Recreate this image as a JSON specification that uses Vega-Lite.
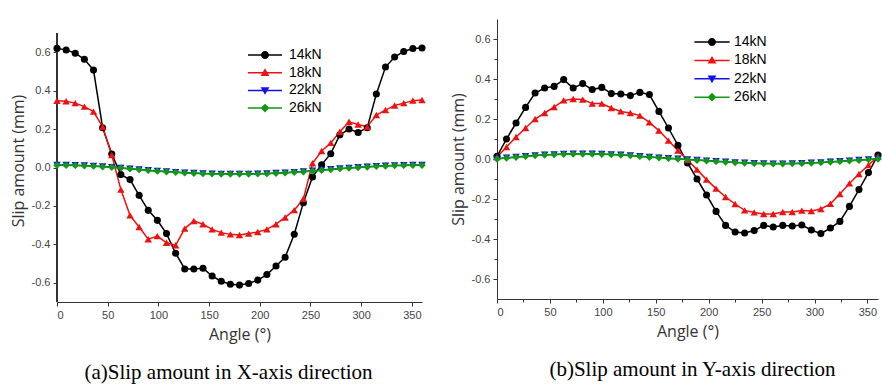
{
  "$schema": "https://vega.github.io/schema/vega-lite/v6.json",
  "background": "white",
  "padding": {"left": 10, "top": 19, "right": 2, "bottom": 2},
  "spacing": 24,
  "config": {
    "view": {"stroke": null},
    "axis": {"grid": false, "domainColor": "#333333", "tickColor": "#333333", "labelFont": "Liberation Sans", "labelFontSize": 11, "labelColor": "#444444", "titleFont": "Open Sans", "titleFontSize": 16, "titleFontWeight": "normal", "titleColor": "#333333", "labelPadding": 3},
    "legend": {"title": null, "orient": "none", "symbolSize": 64, "symbolStrokeWidth": 0, "labelOffset": 17, "padding": 0, "labelFont": "Liberation Sans", "labelFontSize": 14, "labelColor": "#000000"},
    "title": {"font": "Liberation Serif", "fontSize": 21, "fontWeight": "normal", "color": "#000000", "orient": "bottom", "frame": "group", "anchor": "middle", "offset": 20}
  },
  "datasets": {
    "a": [
      {"angle":0,"load":"14kN","slip":0.62},{"angle":9,"load":"14kN","slip":0.612},{"angle":18,"load":"14kN","slip":0.595},{"angle":27,"load":"14kN","slip":0.563},{"angle":36,"load":"14kN","slip":0.507},{"angle":45,"load":"14kN","slip":0.207},{"angle":54,"load":"14kN","slip":0.07},{"angle":63,"load":"14kN","slip":-0.037},{"angle":72,"load":"14kN","slip":-0.063},{"angle":81,"load":"14kN","slip":-0.145},{"angle":90,"load":"14kN","slip":-0.223},{"angle":99,"load":"14kN","slip":-0.275},{"angle":108,"load":"14kN","slip":-0.344},{"angle":117,"load":"14kN","slip":-0.446},{"angle":126,"load":"14kN","slip":-0.528},{"angle":135,"load":"14kN","slip":-0.528},{"angle":144,"load":"14kN","slip":-0.524},{"angle":153,"load":"14kN","slip":-0.565},{"angle":162,"load":"14kN","slip":-0.592},{"angle":171,"load":"14kN","slip":-0.608},{"angle":180,"load":"14kN","slip":-0.612},{"angle":189,"load":"14kN","slip":-0.604},{"angle":198,"load":"14kN","slip":-0.586},{"angle":207,"load":"14kN","slip":-0.557},{"angle":216,"load":"14kN","slip":-0.513},{"angle":225,"load":"14kN","slip":-0.467},{"angle":234,"load":"14kN","slip":-0.347},{"angle":243,"load":"14kN","slip":-0.183},{"angle":252,"load":"14kN","slip":-0.049},{"angle":261,"load":"14kN","slip":0.014},{"angle":270,"load":"14kN","slip":0.072},{"angle":279,"load":"14kN","slip":0.17},{"angle":288,"load":"14kN","slip":0.2},{"angle":297,"load":"14kN","slip":0.182},{"angle":306,"load":"14kN","slip":0.207},{"angle":315,"load":"14kN","slip":0.383},{"angle":324,"load":"14kN","slip":0.523},{"angle":333,"load":"14kN","slip":0.575},{"angle":342,"load":"14kN","slip":0.604},{"angle":351,"load":"14kN","slip":0.619},{"angle":360,"load":"14kN","slip":0.622},
      {"angle":0,"load":"18kN","slip":0.347},{"angle":9,"load":"18kN","slip":0.345},{"angle":18,"load":"18kN","slip":0.335},{"angle":27,"load":"18kN","slip":0.317},{"angle":36,"load":"18kN","slip":0.291},{"angle":45,"load":"18kN","slip":0.212},{"angle":54,"load":"18kN","slip":0.065},{"angle":63,"load":"18kN","slip":-0.115},{"angle":72,"load":"18kN","slip":-0.249},{"angle":81,"load":"18kN","slip":-0.31},{"angle":90,"load":"18kN","slip":-0.373},{"angle":99,"load":"18kN","slip":-0.357},{"angle":108,"load":"18kN","slip":-0.392},{"angle":117,"load":"18kN","slip":-0.405},{"angle":126,"load":"18kN","slip":-0.318},{"angle":135,"load":"18kN","slip":-0.278},{"angle":144,"load":"18kN","slip":-0.295},{"angle":153,"load":"18kN","slip":-0.322},{"angle":162,"load":"18kN","slip":-0.339},{"angle":171,"load":"18kN","slip":-0.348},{"angle":180,"load":"18kN","slip":-0.351},{"angle":189,"load":"18kN","slip":-0.344},{"angle":198,"load":"18kN","slip":-0.336},{"angle":207,"load":"18kN","slip":-0.322},{"angle":216,"load":"18kN","slip":-0.295},{"angle":225,"load":"18kN","slip":-0.26},{"angle":234,"load":"18kN","slip":-0.222},{"angle":243,"load":"18kN","slip":-0.163},{"angle":252,"load":"18kN","slip":0.022},{"angle":261,"load":"18kN","slip":0.086},{"angle":270,"load":"18kN","slip":0.128},{"angle":279,"load":"18kN","slip":0.186},{"angle":288,"load":"18kN","slip":0.238},{"angle":297,"load":"18kN","slip":0.224},{"angle":306,"load":"18kN","slip":0.212},{"angle":315,"load":"18kN","slip":0.273},{"angle":324,"load":"18kN","slip":0.299},{"angle":333,"load":"18kN","slip":0.323},{"angle":342,"load":"18kN","slip":0.335},{"angle":351,"load":"18kN","slip":0.348},{"angle":360,"load":"18kN","slip":0.351},
      {"angle":0,"load":"22kN","slip":0.013},{"angle":9,"load":"22kN","slip":0.013},{"angle":18,"load":"22kN","slip":0.012},{"angle":27,"load":"22kN","slip":0.01},{"angle":36,"load":"22kN","slip":0.008},{"angle":45,"load":"22kN","slip":0.005},{"angle":54,"load":"22kN","slip":0.002},{"angle":63,"load":"22kN","slip":-0.002},{"angle":72,"load":"22kN","slip":-0.006},{"angle":81,"load":"22kN","slip":-0.01},{"angle":90,"load":"22kN","slip":-0.014},{"angle":99,"load":"22kN","slip":-0.018},{"angle":108,"load":"22kN","slip":-0.021},{"angle":117,"load":"22kN","slip":-0.024},{"angle":126,"load":"22kN","slip":-0.027},{"angle":135,"load":"22kN","slip":-0.029},{"angle":144,"load":"22kN","slip":-0.031},{"angle":153,"load":"22kN","slip":-0.032},{"angle":162,"load":"22kN","slip":-0.033},{"angle":171,"load":"22kN","slip":-0.033},{"angle":180,"load":"22kN","slip":-0.033},{"angle":189,"load":"22kN","slip":-0.033},{"angle":198,"load":"22kN","slip":-0.032},{"angle":207,"load":"22kN","slip":-0.031},{"angle":216,"load":"22kN","slip":-0.029},{"angle":225,"load":"22kN","slip":-0.027},{"angle":234,"load":"22kN","slip":-0.024},{"angle":243,"load":"22kN","slip":-0.021},{"angle":252,"load":"22kN","slip":-0.017},{"angle":261,"load":"22kN","slip":-0.013},{"angle":270,"load":"22kN","slip":-0.009},{"angle":279,"load":"22kN","slip":-0.005},{"angle":288,"load":"22kN","slip":-0.002},{"angle":297,"load":"22kN","slip":0.001},{"angle":306,"load":"22kN","slip":0.004},{"angle":315,"load":"22kN","slip":0.007},{"angle":324,"load":"22kN","slip":0.009},{"angle":333,"load":"22kN","slip":0.011},{"angle":342,"load":"22kN","slip":0.012},{"angle":351,"load":"22kN","slip":0.013},{"angle":360,"load":"22kN","slip":0.013},
      {"angle":0,"load":"26kN","slip":0.012},{"angle":9,"load":"26kN","slip":0.012},{"angle":18,"load":"26kN","slip":0.011},{"angle":27,"load":"26kN","slip":0.009},{"angle":36,"load":"26kN","slip":0.007},{"angle":45,"load":"26kN","slip":0.004},{"angle":54,"load":"26kN","slip":0.001},{"angle":63,"load":"26kN","slip":-0.003},{"angle":72,"load":"26kN","slip":-0.007},{"angle":81,"load":"26kN","slip":-0.011},{"angle":90,"load":"26kN","slip":-0.015},{"angle":99,"load":"26kN","slip":-0.019},{"angle":108,"load":"26kN","slip":-0.022},{"angle":117,"load":"26kN","slip":-0.025},{"angle":126,"load":"26kN","slip":-0.028},{"angle":135,"load":"26kN","slip":-0.03},{"angle":144,"load":"26kN","slip":-0.032},{"angle":153,"load":"26kN","slip":-0.033},{"angle":162,"load":"26kN","slip":-0.034},{"angle":171,"load":"26kN","slip":-0.034},{"angle":180,"load":"26kN","slip":-0.034},{"angle":189,"load":"26kN","slip":-0.034},{"angle":198,"load":"26kN","slip":-0.033},{"angle":207,"load":"26kN","slip":-0.032},{"angle":216,"load":"26kN","slip":-0.03},{"angle":225,"load":"26kN","slip":-0.028},{"angle":234,"load":"26kN","slip":-0.025},{"angle":243,"load":"26kN","slip":-0.022},{"angle":252,"load":"26kN","slip":-0.018},{"angle":261,"load":"26kN","slip":-0.014},{"angle":270,"load":"26kN","slip":-0.01},{"angle":279,"load":"26kN","slip":-0.006},{"angle":288,"load":"26kN","slip":-0.003},{"angle":297,"load":"26kN","slip":0.0},{"angle":306,"load":"26kN","slip":0.003},{"angle":315,"load":"26kN","slip":0.006},{"angle":324,"load":"26kN","slip":0.008},{"angle":333,"load":"26kN","slip":0.01},{"angle":342,"load":"26kN","slip":0.011},{"angle":351,"load":"26kN","slip":0.012},{"angle":360,"load":"26kN","slip":0.012}
    ],
    "b": [
      {"angle":0,"load":"14kN","slip":0.013},{"angle":9,"load":"14kN","slip":0.1},{"angle":18,"load":"14kN","slip":0.18},{"angle":27,"load":"14kN","slip":0.258},{"angle":36,"load":"14kN","slip":0.33},{"angle":45,"load":"14kN","slip":0.355},{"angle":54,"load":"14kN","slip":0.363},{"angle":63,"load":"14kN","slip":0.397},{"angle":72,"load":"14kN","slip":0.355},{"angle":81,"load":"14kN","slip":0.377},{"angle":90,"load":"14kN","slip":0.347},{"angle":99,"load":"14kN","slip":0.358},{"angle":108,"load":"14kN","slip":0.327},{"angle":117,"load":"14kN","slip":0.325},{"angle":126,"load":"14kN","slip":0.317},{"angle":135,"load":"14kN","slip":0.333},{"angle":144,"load":"14kN","slip":0.322},{"angle":153,"load":"14kN","slip":0.238},{"angle":162,"load":"14kN","slip":0.155},{"angle":171,"load":"14kN","slip":0.068},{"angle":180,"load":"14kN","slip":-0.02},{"angle":189,"load":"14kN","slip":-0.1},{"angle":198,"load":"14kN","slip":-0.18},{"angle":207,"load":"14kN","slip":-0.262},{"angle":216,"load":"14kN","slip":-0.332},{"angle":225,"load":"14kN","slip":-0.365},{"angle":234,"load":"14kN","slip":-0.37},{"angle":243,"load":"14kN","slip":-0.358},{"angle":252,"load":"14kN","slip":-0.332},{"angle":261,"load":"14kN","slip":-0.34},{"angle":270,"load":"14kN","slip":-0.332},{"angle":279,"load":"14kN","slip":-0.335},{"angle":288,"load":"14kN","slip":-0.33},{"angle":297,"load":"14kN","slip":-0.355},{"angle":306,"load":"14kN","slip":-0.373},{"angle":315,"load":"14kN","slip":-0.345},{"angle":324,"load":"14kN","slip":-0.312},{"angle":333,"load":"14kN","slip":-0.237},{"angle":342,"load":"14kN","slip":-0.153},{"angle":351,"load":"14kN","slip":-0.068},{"angle":360,"load":"14kN","slip":0.02},
      {"angle":0,"load":"18kN","slip":0.01},{"angle":9,"load":"18kN","slip":0.06},{"angle":18,"load":"18kN","slip":0.11},{"angle":27,"load":"18kN","slip":0.155},{"angle":36,"load":"18kN","slip":0.2},{"angle":45,"load":"18kN","slip":0.23},{"angle":54,"load":"18kN","slip":0.26},{"angle":63,"load":"18kN","slip":0.293},{"angle":72,"load":"18kN","slip":0.3},{"angle":81,"load":"18kN","slip":0.297},{"angle":90,"load":"18kN","slip":0.277},{"angle":99,"load":"18kN","slip":0.277},{"angle":108,"load":"18kN","slip":0.255},{"angle":117,"load":"18kN","slip":0.238},{"angle":126,"load":"18kN","slip":0.23},{"angle":135,"load":"18kN","slip":0.217},{"angle":144,"load":"18kN","slip":0.183},{"angle":153,"load":"18kN","slip":0.142},{"angle":162,"load":"18kN","slip":0.092},{"angle":171,"load":"18kN","slip":0.042},{"angle":180,"load":"18kN","slip":-0.005},{"angle":189,"load":"18kN","slip":-0.053},{"angle":198,"load":"18kN","slip":-0.103},{"angle":207,"load":"18kN","slip":-0.148},{"angle":216,"load":"18kN","slip":-0.19},{"angle":225,"load":"18kN","slip":-0.225},{"angle":234,"load":"18kN","slip":-0.257},{"angle":243,"load":"18kN","slip":-0.267},{"angle":252,"load":"18kN","slip":-0.275},{"angle":261,"load":"18kN","slip":-0.275},{"angle":270,"load":"18kN","slip":-0.265},{"angle":279,"load":"18kN","slip":-0.265},{"angle":288,"load":"18kN","slip":-0.258},{"angle":297,"load":"18kN","slip":-0.26},{"angle":306,"load":"18kN","slip":-0.25},{"angle":315,"load":"18kN","slip":-0.224},{"angle":324,"load":"18kN","slip":-0.175},{"angle":333,"load":"18kN","slip":-0.122},{"angle":342,"load":"18kN","slip":-0.075},{"angle":351,"load":"18kN","slip":-0.03},{"angle":360,"load":"18kN","slip":0.013},
      {"angle":0,"load":"22kN","slip":0.001},{"angle":9,"load":"22kN","slip":0.006},{"angle":18,"load":"22kN","slip":0.01},{"angle":27,"load":"22kN","slip":0.014},{"angle":36,"load":"22kN","slip":0.018},{"angle":45,"load":"22kN","slip":0.021},{"angle":54,"load":"22kN","slip":0.023},{"angle":63,"load":"22kN","slip":0.025},{"angle":72,"load":"22kN","slip":0.026},{"angle":81,"load":"22kN","slip":0.026},{"angle":90,"load":"22kN","slip":0.026},{"angle":99,"load":"22kN","slip":0.025},{"angle":108,"load":"22kN","slip":0.023},{"angle":117,"load":"22kN","slip":0.021},{"angle":126,"load":"22kN","slip":0.018},{"angle":135,"load":"22kN","slip":0.014},{"angle":144,"load":"22kN","slip":0.01},{"angle":153,"load":"22kN","slip":0.007},{"angle":162,"load":"22kN","slip":0.004},{"angle":171,"load":"22kN","slip":0.001},{"angle":180,"load":"22kN","slip":-0.002},{"angle":189,"load":"22kN","slip":-0.005},{"angle":198,"load":"22kN","slip":-0.008},{"angle":207,"load":"22kN","slip":-0.011},{"angle":216,"load":"22kN","slip":-0.014},{"angle":225,"load":"22kN","slip":-0.017},{"angle":234,"load":"22kN","slip":-0.019},{"angle":243,"load":"22kN","slip":-0.021},{"angle":252,"load":"22kN","slip":-0.022},{"angle":261,"load":"22kN","slip":-0.023},{"angle":270,"load":"22kN","slip":-0.023},{"angle":279,"load":"22kN","slip":-0.022},{"angle":288,"load":"22kN","slip":-0.021},{"angle":297,"load":"22kN","slip":-0.019},{"angle":306,"load":"22kN","slip":-0.017},{"angle":315,"load":"22kN","slip":-0.014},{"angle":324,"load":"22kN","slip":-0.011},{"angle":333,"load":"22kN","slip":-0.008},{"angle":342,"load":"22kN","slip":-0.005},{"angle":351,"load":"22kN","slip":-0.002},{"angle":360,"load":"22kN","slip":0.001},
      {"angle":0,"load":"26kN","slip":0.0},{"angle":9,"load":"26kN","slip":0.005},{"angle":18,"load":"26kN","slip":0.009},{"angle":27,"load":"26kN","slip":0.013},{"angle":36,"load":"26kN","slip":0.017},{"angle":45,"load":"26kN","slip":0.02},{"angle":54,"load":"26kN","slip":0.022},{"angle":63,"load":"26kN","slip":0.024},{"angle":72,"load":"26kN","slip":0.025},{"angle":81,"load":"26kN","slip":0.025},{"angle":90,"load":"26kN","slip":0.025},{"angle":99,"load":"26kN","slip":0.024},{"angle":108,"load":"26kN","slip":0.022},{"angle":117,"load":"26kN","slip":0.02},{"angle":126,"load":"26kN","slip":0.017},{"angle":135,"load":"26kN","slip":0.013},{"angle":144,"load":"26kN","slip":0.009},{"angle":153,"load":"26kN","slip":0.006},{"angle":162,"load":"26kN","slip":0.003},{"angle":171,"load":"26kN","slip":0.0},{"angle":180,"load":"26kN","slip":-0.003},{"angle":189,"load":"26kN","slip":-0.006},{"angle":198,"load":"26kN","slip":-0.009},{"angle":207,"load":"26kN","slip":-0.012},{"angle":216,"load":"26kN","slip":-0.015},{"angle":225,"load":"26kN","slip":-0.018},{"angle":234,"load":"26kN","slip":-0.02},{"angle":243,"load":"26kN","slip":-0.022},{"angle":252,"load":"26kN","slip":-0.023},{"angle":261,"load":"26kN","slip":-0.024},{"angle":270,"load":"26kN","slip":-0.024},{"angle":279,"load":"26kN","slip":-0.023},{"angle":288,"load":"26kN","slip":-0.022},{"angle":297,"load":"26kN","slip":-0.02},{"angle":306,"load":"26kN","slip":-0.018},{"angle":315,"load":"26kN","slip":-0.015},{"angle":324,"load":"26kN","slip":-0.012},{"angle":333,"load":"26kN","slip":-0.009},{"angle":342,"load":"26kN","slip":-0.006},{"angle":351,"load":"26kN","slip":-0.003},{"angle":360,"load":"26kN","slip":0.0}
    ]
  },
  "hconcat": [
    {
      "width": 365,
      "height": 283,
      "data": {"name": "a"},
      "title": {"text": "(a)Slip amount in X-axis direction", "dx": -11},
      "layer": [
        {
          "mark": {"type": "rule", "color": "#333333", "strokeWidth": 1},
          "encoding": {
            "x": {"datum": 0, "type": "quantitative"},
            "y": {"datum": -0.7, "type": "quantitative"},
            "y2": {"datum": 0.7}
          }
        },
        {
          "encoding": {
            "x": {"field": "angle", "type": "quantitative", "scale": {"domain": [0, 360], "nice": false, "zero": false},
              "axis": {"title": "Angle (°)", "titleFontWeight": "normal", "orient": "bottom", "values": [0,25,50,75,100,125,150,175,200,225,250,275,300,325,350], "labelExpr": "datum.value % 50 === 0 ? datum.label : ''", "tickSize": {"expr": "datum.value % 50 === 0 ? 4 : 3"}, "titlePadding": 6}},
            "y": {"field": "slip", "type": "quantitative", "scale": {"domain": [-0.7, 0.7729], "nice": false, "zero": false},
              "axis": {"title": "Slip amount (mm)", "titleFontWeight": "normal", "domain": false, "values": [-0.6,-0.5,-0.4,-0.3,-0.2,-0.1,0,0.1,0.2,0.3,0.4,0.5,0.6], "format": ".1f", "labelExpr": "round(datum.value*10) % 2 === 0 ? replace(datum.label, '\u2212', '-') : ''", "tickSize": {"expr": "round(datum.value*10) % 2 === 0 ? 4 : 3"}, "titlePadding": 5}},
            "color": {"field": "load", "type": "nominal", "scale": {"domain": ["14kN","18kN","22kN","26kN"], "range": ["#000000","#ee1111","#1111ee","#119911"]},
              "legend": {"legendX": 201, "legendY": 29, "rowPadding": 3.7}}
          },
          "layer": [
            {"mark": {"type": "line", "strokeWidth": 1.5}},
            {"transform": [{"filter": "datum.load === '14kN'"}], "mark": {"type": "point", "shape": "circle", "filled": true, "size": 50, "opacity": 1}},
            {"transform": [{"filter": "datum.load === '18kN'"}], "mark": {"type": "point", "shape": "triangle-up", "filled": true, "size": 55, "opacity": 1}},
            {"transform": [{"filter": "datum.load === '22kN'"}], "mark": {"type": "point", "shape": "triangle-down", "filled": true, "size": 55, "opacity": 1}},
            {"transform": [{"filter": "datum.load === '26kN'"}], "mark": {"type": "point", "shape": "diamond", "filled": true, "size": 55, "opacity": 1}},
            {
              "transform": [{"filter": "datum.angle < 0"}],
              "mark": {"type": "point", "filled": true, "size": 50, "opacity": 1},
              "encoding": {
                "shape": {"field": "load", "type": "nominal", "scale": {"domain": ["14kN","18kN","22kN","26kN"], "range": ["M-4.25,-0.19H4.25V0.19H-4.25ZM-1,0A1,1 0 1,1 1,0A1,1 0 1,1 -1,0Z", "M-4.25,-0.19H4.25V0.19H-4.25ZM0,-1.1L1.1,0.8L-1.1,0.8Z", "M-4.25,-0.19H4.25V0.19H-4.25ZM-1.1,-0.8L1.1,-0.8L0,1.1Z", "M-4.25,-0.19H4.25V0.19H-4.25ZM0,-1.1L1.1,0L0,1.1L-1.1,0Z"]},
                  "legend": {"legendX": 201, "legendY": 29, "rowPadding": 3.7}}
              }
            }
          ]
        }
      ]
    },
    {
      "width": 381,
      "height": 280,
      "data": {"name": "b"},
      "title": {"text": "(b)Slip amount in Y-axis direction", "dx": 5},
      "encoding": {
        "x": {"field": "angle", "type": "quantitative", "scale": {"domain": [0, 360], "nice": false, "zero": false},
          "axis": {"title": "Angle (°)", "titleFontWeight": "normal", "orient": "bottom", "values": [0,25,50,75,100,125,150,175,200,225,250,275,300,325,350], "labelExpr": "datum.value % 50 === 0 ? datum.label : ''", "tickSize": {"expr": "datum.value % 50 === 0 ? 4 : 3"}, "titlePadding": 6}},
        "y": {"field": "slip", "type": "quantitative", "scale": {"domain": [-0.7, 0.7], "nice": false},
          "axis": {"title": "Slip amount (mm)", "titleFontWeight": "normal", "values": [-0.6,-0.5,-0.4,-0.3,-0.2,-0.1,0,0.1,0.2,0.3,0.4,0.5,0.6], "format": ".1f", "labelExpr": "round(datum.value*10) % 2 === 0 ? replace(datum.label, '\u2212', '-') : ''", "tickSize": {"expr": "round(datum.value*10) % 2 === 0 ? 4 : 3"}, "titlePadding": 5}},
        "color": {"field": "load", "type": "nominal", "scale": {"domain": ["14kN","18kN","22kN","26kN"], "range": ["#000000","#ee1111","#1111ee","#119911"]},
          "legend": {"legendX": 208, "legendY": 16, "rowPadding": 4.4, "labelOffset": 15}}
      },
      "layer": [
        {"mark": {"type": "line", "strokeWidth": 1.5}},
        {"transform": [{"filter": "datum.load === '14kN'"}], "mark": {"type": "point", "shape": "circle", "filled": true, "size": 50, "opacity": 1}},
        {"transform": [{"filter": "datum.load === '18kN'"}], "mark": {"type": "point", "shape": "triangle-up", "filled": true, "size": 55, "opacity": 1}},
        {"transform": [{"filter": "datum.load === '22kN'"}], "mark": {"type": "point", "shape": "triangle-down", "filled": true, "size": 55, "opacity": 1}},
        {"transform": [{"filter": "datum.load === '26kN'"}], "mark": {"type": "point", "shape": "diamond", "filled": true, "size": 55, "opacity": 1}},
        {
          "transform": [{"filter": "datum.angle < 0"}],
          "mark": {"type": "point", "filled": true, "size": 50, "opacity": 1},
          "encoding": {
            "shape": {"field": "load", "type": "nominal", "scale": {"domain": ["14kN","18kN","22kN","26kN"], "range": ["M-4.4,-0.19H4.4V0.19H-4.4ZM-1,0A1,1 0 1,1 1,0A1,1 0 1,1 -1,0Z", "M-4.4,-0.19H4.4V0.19H-4.4ZM0,-1.1L1.1,0.8L-1.1,0.8Z", "M-4.4,-0.19H4.4V0.19H-4.4ZM-1.1,-0.8L1.1,-0.8L0,1.1Z", "M-4.4,-0.19H4.4V0.19H-4.4ZM0,-1.1L1.1,0L0,1.1L-1.1,0Z"]},
              "legend": {"legendX": 208, "legendY": 16, "rowPadding": 4.4, "labelOffset": 15}}
          }
        }
      ]
    }
  ],
  "resolve": {"scale": {"color": "independent", "shape": "independent"}, "legend": {"color": "independent", "shape": "independent"}}
}
